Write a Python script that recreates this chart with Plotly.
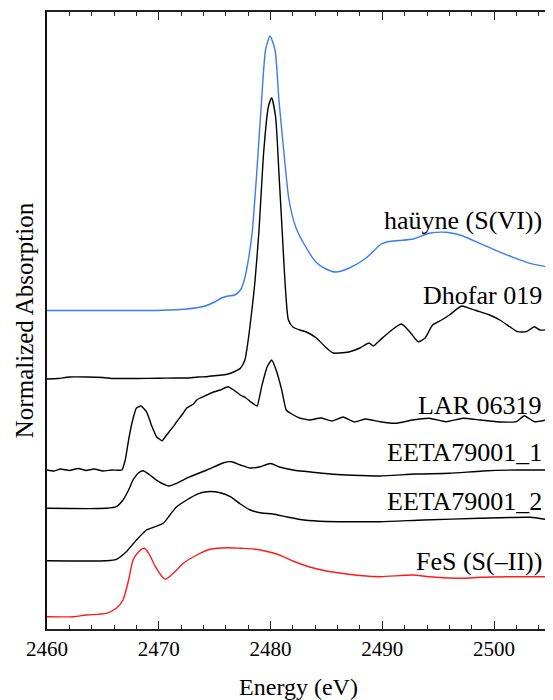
import plotly.graph_objects as go

# ---- data (energy in eV, stacked normalized absorption, arbitrary offset units) ----
e_hauyne = [2460.0, 2465.0, 2469.8, 2471.0, 2472.5, 2474.0, 2475.0, 2475.6, 2476.2, 2476.8,
            2477.3, 2477.6, 2477.9, 2478.35, 2478.8, 2479.2, 2479.55, 2479.95, 2480.4, 2480.75,
            2481.2, 2481.65, 2482.25, 2483.15, 2484.05, 2484.95, 2485.85, 2487.05, 2488.55, 2489.9,
            2490.6, 2491.5, 2492.75, 2494.2, 2495.7, 2497.2, 2498.7, 2500.2, 2501.7, 2503.2, 2505.0]
a_hauyne = [3.185, 3.185, 3.185, 3.19, 3.20, 3.225, 3.27, 3.31, 3.33, 3.34,
            3.39, 3.47, 3.62, 3.96, 4.62, 5.29, 5.79, 5.93, 5.79, 5.29,
            4.76, 4.29, 4.02, 3.82, 3.67, 3.60, 3.57, 3.61, 3.71, 3.85,
            3.875, 3.885, 3.90, 3.957, 3.967, 3.93, 3.857, 3.783, 3.717, 3.657, 3.617]

e_dhofar = [2460.0, 2461.0, 2462.0, 2463.5, 2465.0, 2466.0, 2468.0, 2470.0, 2471.5, 2472.5,
            2473.5, 2474.3, 2475.2, 2476.1, 2476.8, 2477.3, 2477.7, 2478.0, 2478.3, 2478.6,
            2478.95, 2479.4, 2479.8, 2480.1, 2480.45, 2480.75, 2481.05, 2481.3, 2481.6, 2482.0,
            2482.6, 2483.2, 2484.1, 2485.0, 2485.6, 2486.2, 2487.0, 2488.0, 2488.8, 2489.2,
            2489.8, 2490.66, 2491.7, 2492.45, 2493.2, 2493.8, 2494.5, 2495.3, 2496.0, 2497.1,
            2497.8, 2498.7, 2499.6, 2500.5, 2501.4, 2502.1, 2502.9, 2503.6, 2504.1, 2505.0]
a_dhofar = [2.50, 2.505, 2.52, 2.52, 2.515, 2.505, 2.505, 2.507, 2.51, 2.51,
            2.52, 2.523, 2.535, 2.547, 2.575, 2.607, 2.69, 2.89, 3.16, 3.47,
            3.96, 4.79, 5.22, 5.31, 5.12, 4.56, 3.96, 3.46, 3.09, 3.02,
            2.99, 2.97, 2.91, 2.81, 2.76, 2.76, 2.77, 2.81, 2.86, 2.83,
            2.89, 2.973, 3.05, 2.973, 2.873, 2.907, 3.04, 3.09, 3.14, 3.23,
            3.207, 3.173, 3.14, 3.09, 3.023, 2.973, 2.973, 3.023, 2.99, 2.997]

e_lar = [2460.0, 2460.6, 2461.2, 2462.0, 2462.8, 2463.5, 2464.2, 2465.0, 2465.8, 2466.7,
         2467.0, 2467.3, 2467.6, 2468.0, 2468.4, 2468.9, 2469.4, 2469.8, 2470.3, 2470.7,
         2471.3, 2471.6, 2472.2, 2472.5, 2473.1, 2473.4, 2473.7, 2474.3, 2474.9, 2475.5,
         2476.2, 2476.7, 2477.3, 2477.8, 2478.2, 2478.8, 2479.2, 2479.7, 2480.1, 2480.5,
         2481.0, 2481.4, 2481.9, 2482.6, 2483.5, 2484.5, 2485.5, 2486.5, 2487.5, 2488.5,
         2489.8, 2491.2, 2492.7, 2494.2, 2495.7, 2497.2, 2498.7, 2500.2, 2502.0, 2502.7,
         2503.6, 2505.0]
a_lar = [1.59, 1.58, 1.60, 1.585, 1.605, 1.585, 1.60, 1.58, 1.59, 1.59,
         1.69, 1.89, 2.06, 2.21, 2.23, 2.173, 2.023, 1.923, 1.883, 1.94,
         2.023, 2.073, 2.16, 2.21, 2.25, 2.29, 2.31, 2.34, 2.37, 2.39,
         2.423, 2.39, 2.34, 2.31, 2.273, 2.23, 2.423, 2.623, 2.69, 2.59,
         2.39, 2.19, 2.15, 2.11, 2.09, 2.11, 2.08, 2.12, 2.07, 2.10,
         2.073, 2.057, 2.09, 2.107, 2.073, 2.107, 2.09, 2.073, 2.073, 2.133,
         2.073, 2.097]

e_eeta1 = [2460.0, 2465.3, 2466.2, 2466.8, 2467.3, 2467.7, 2468.2, 2468.6, 2469.2, 2470.0,
           2470.9, 2471.6, 2472.8, 2474.3, 2475.8, 2476.5, 2477.3, 2478.2, 2479.0, 2480.0,
           2480.8, 2482.0, 2484.0, 2486.0, 2488.0, 2489.8, 2493.0, 2496.0, 2499.0, 2502.0, 2505.0]
a_eeta1 = [1.207, 1.207, 1.223, 1.29, 1.39, 1.49, 1.563, 1.583, 1.54, 1.473,
           1.43, 1.457, 1.523, 1.59, 1.663, 1.673, 1.64, 1.61, 1.62, 1.655,
           1.62, 1.59, 1.565, 1.545, 1.535, 1.53, 1.55, 1.557, 1.58, 1.59, 1.59]

e_eeta2 = [2460.0, 2465.3, 2466.2, 2467.1, 2468.0, 2468.9, 2469.7, 2470.4, 2471.0, 2471.6,
           2472.5, 2473.4, 2474.3, 2475.5, 2476.4, 2477.3, 2478.2, 2479.2, 2480.2, 2481.5,
           2483.0, 2485.0, 2487.0, 2489.8, 2493.7, 2498.7, 2503.2, 2505.0]
a_eeta2 = [0.683, 0.683, 0.697, 0.773, 0.89, 0.99, 1.023, 1.057, 1.14, 1.223,
           1.29, 1.347, 1.373, 1.363, 1.323, 1.25, 1.19, 1.16, 1.15, 1.12,
           1.09, 1.075, 1.073, 1.073, 1.09, 1.107, 1.117, 1.09]

e_fes = [2460.0, 2462.4, 2463.5, 2465.3, 2466.2, 2466.8, 2467.3, 2467.7, 2468.2, 2468.7,
         2469.1, 2469.7, 2470.3, 2470.6, 2471.3, 2472.2, 2473.4, 2474.6, 2476.1, 2477.3,
         2478.5, 2479.5, 2480.8, 2482.0, 2483.5, 2485.0, 2486.5, 2488.0, 2489.8, 2492.7,
         2494.2, 2497.2, 2498.7, 2501.7, 2505.0]
a_fes = [0.123, 0.123, 0.14, 0.157, 0.207, 0.29, 0.49, 0.69, 0.773, 0.807,
         0.757, 0.623, 0.523, 0.497, 0.557, 0.657, 0.74, 0.797, 0.813, 0.807,
         0.80, 0.78, 0.74, 0.68, 0.62, 0.58, 0.555, 0.535, 0.523, 0.54,
         0.523, 0.507, 0.517, 0.523, 0.523]

series_names = ["haüyne (S(VI))", "Dhofar 019", "LAR 06319", "EETA79001_1", "EETA79001_2", "FeS (S(–II))"]
series_x = [e_hauyne, e_dhofar, e_lar, e_eeta1, e_eeta2, e_fes]
series_y = [a_hauyne, a_dhofar, a_lar, a_eeta1, a_eeta2, a_fes]
series_colors = ["#3b7bf0", "#000000", "#000000", "#000000", "#000000", "#ff1a1a"]
series_smooth = [0.6, 0.6, 0.35, 0.6, 0.6, 0.6]
label_y = [4.09, 3.34, 2.24, 1.763, 1.28, 0.673]

x_ticks = [2460, 2470, 2480, 2490, 2500]

FONT = "Liberation Serif, Times New Roman, serif"

fig = go.Figure()
for nm, xs, ys, col, sm in zip(series_names, series_x, series_y, series_colors, series_smooth):
    fig.add_trace(go.Scatter(x=xs, y=ys, mode="lines", name=nm,
                             line=dict(color=col, width=1.4, shape="spline", smoothing=sm),
                             showlegend=False, hoverinfo="skip"))

for nm, ly in zip(series_names, label_y):
    fig.add_annotation(x=0.988, xref="paper", y=ly, yref="y", text=nm, showarrow=False,
                       xanchor="right", yanchor="middle",
                       font=dict(family=FONT, size=26, color="black"))

# the page body has an 8px default margin, so the figure is 8px smaller than the window
fig.update_layout(
    width=545, height=692,
    margin=dict(l=39, r=3, t=4, b=71, autoexpand=False),
    paper_bgcolor="white", plot_bgcolor="white",
    font=dict(family=FONT, color="black"),
)
fig.update_xaxes(
    range=[2460, 2505], tickvals=x_ticks, ticktext=[str(v) for v in x_ticks],
    ticks="inside", ticklen=8, tickwidth=1.2, tickcolor="#222",
    minor=dict(dtick=2, tick0=2460, ticks="inside", ticklen=4, tickwidth=1.2, tickcolor="#222"),
    showline=True, linecolor="#222", linewidth=1.5, mirror="ticks",
    showgrid=False, zeroline=False, automargin=False,
    tickfont=dict(family=FONT, size=21, color="black"),
    title=dict(text="Energy (eV)", font=dict(family=FONT, size=24, color="black"), standoff=18),
)
fig.update_yaxes(
    range=[0, 6.17], showticklabels=False, ticks="",
    showline=True, linecolor="#111", linewidth=2, mirror=True,
    showgrid=False, zeroline=False, automargin=False,
    title=dict(text="Normalized Absorption", font=dict(family=FONT, size=25, color="black"), standoff=4),
)

fig.write_html("out.html")
